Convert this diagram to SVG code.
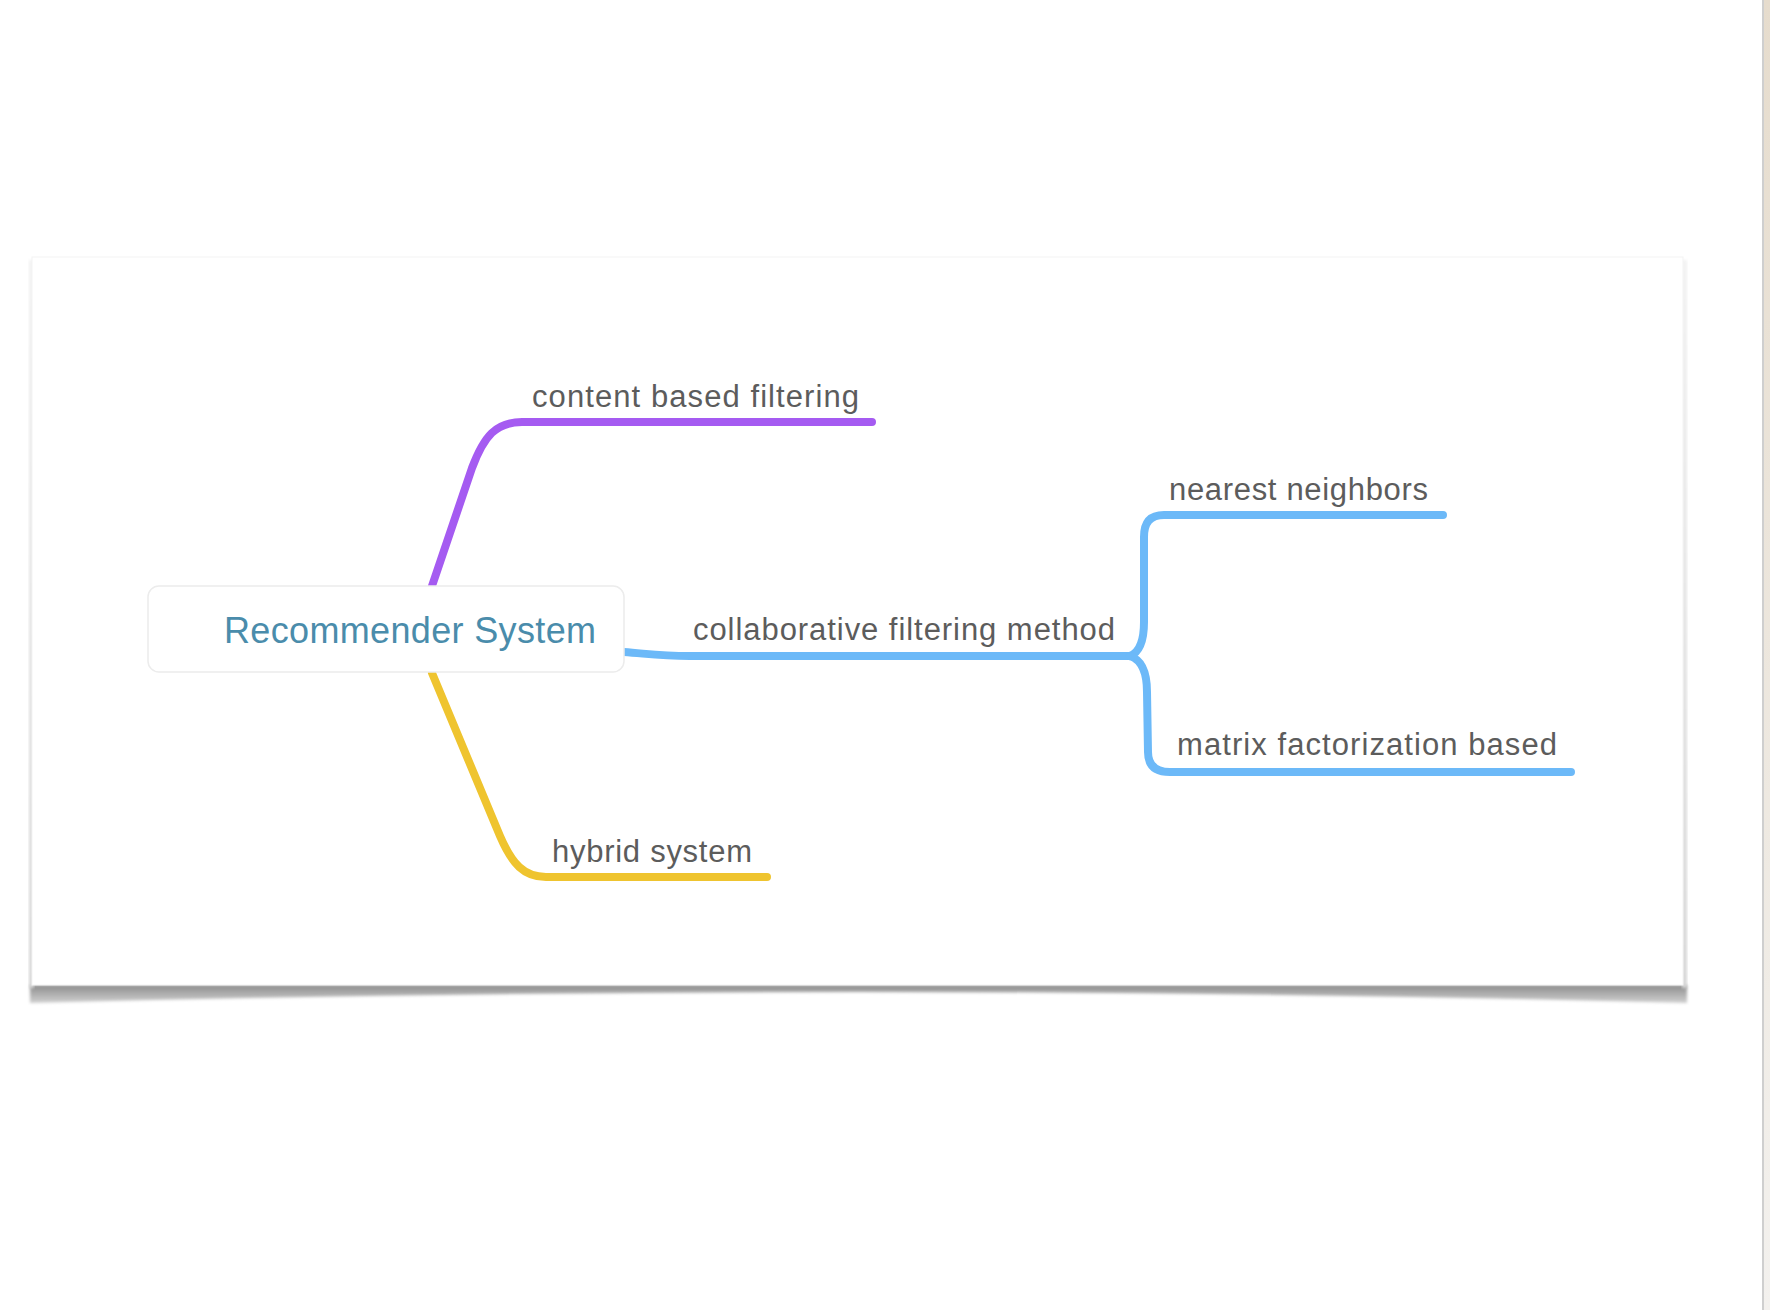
<svg xmlns="http://www.w3.org/2000/svg" width="1770" height="1310" viewBox="0 0 1770 1310">
<style>
.lbl{font-family:"Liberation Sans",Arial,Helvetica,sans-serif;font-size:31px;fill:#5c5c5c}
.root{font-family:"Liberation Sans",Arial,Helvetica,sans-serif;font-size:36px;fill:#4a8cab}
.br{fill:none;stroke-width:8;stroke-linecap:round;stroke-linejoin:round}
.purple{stroke:#a55bf1}
.blue{stroke:#6cb9f8}
.yellow{stroke:#efc42f}
</style>
<defs>
<linearGradient id="shadowG" x1="0" y1="0" x2="0" y2="1">
<stop offset="0" stop-color="#8c8c8c"/>
<stop offset="1" stop-color="#d0d0d0"/>
</linearGradient>
<linearGradient id="sideG" x1="0" y1="0" x2="0" y2="1">
<stop offset="0" stop-color="#f2f2f2"/>
<stop offset="1" stop-color="#d6d6d6"/>
</linearGradient>
<linearGradient id="stripG" x1="0" y1="0" x2="0" y2="1">
<stop offset="0" stop-color="#e6dccd"/>
<stop offset="1" stop-color="#f3f1ee"/>
</linearGradient>
<filter id="blur" x="-5%" y="-100%" width="110%" height="300%">
<feGaussianBlur stdDeviation="1.6"/>
</filter>
</defs>
<rect x="0" y="0" width="1770" height="1310" fill="#ffffff"/>
<g id="window-edge">
<rect x="1763" y="0" width="7" height="1310" fill="url(#stripG)"/>
<rect x="1762" y="0" width="2" height="1310" fill="#cfcfcf"/>
</g>
<g id="sheet">
<path d="M30,985 L1687,985 L1687,1003 Q858,981 30,1003 Z" fill="url(#shadowG)" filter="url(#blur)"/>
<rect x="29" y="260" width="5" height="728" fill="url(#sideG)" filter="url(#blur)"/>
<rect x="1682" y="260" width="5" height="728" fill="url(#sideG)" filter="url(#blur)"/>
<rect x="32" y="257" width="1651" height="728" fill="#ffffff" stroke="#f3f3f3" stroke-width="1"/>
</g>
<g id="connectors">
<path class="br purple" d="M432,586 L472,468 C484,436 496,422 522,422 L872,422"/>
<path class="br yellow" d="M432,673 L500,836 C512,864 524,877 546,877 L767,877"/>
<path class="br blue" d="M624,652 C650,654 660,656 690,656 L1130,656"/>
<path class="br blue" d="M1130,656 C1140,652 1144,640 1144,622 L1144,537 C1144,523 1150,515 1164,515 L1443,515"/>
<path class="br blue" d="M1130,656 C1142,660 1147,672 1147,692 L1148,752 C1148,765 1155,772 1170,772 L1571,772"/>
</g>
<g id="node-root">
<rect x="148" y="586" width="476" height="86" rx="11" ry="11" fill="#ffffff" stroke="#ececec" stroke-width="1.5"/>
<text class="root" x="224" y="643" textLength="372" lengthAdjust="spacing">Recommender System</text>
</g>
<g id="node-content">
<text class="lbl" x="532" y="407" textLength="327" lengthAdjust="spacing">content based filtering</text>
</g>
<g id="node-collab">
<text class="lbl" x="693" y="640" textLength="422" lengthAdjust="spacing">collaborative filtering method</text>
</g>
<g id="node-nearest">
<text class="lbl" x="1169" y="500" textLength="259" lengthAdjust="spacing">nearest neighbors</text>
</g>
<g id="node-matrix">
<text class="lbl" x="1177" y="755" textLength="380" lengthAdjust="spacing">matrix factorization based</text>
</g>
<g id="node-hybrid">
<text class="lbl" x="552" y="862" textLength="200" lengthAdjust="spacing">hybrid system</text>
</g>
</svg>
